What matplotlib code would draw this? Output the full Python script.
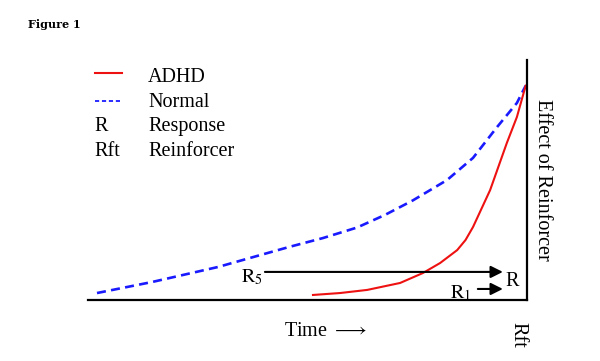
import matplotlib
matplotlib.use("Agg")
import matplotlib.pyplot as plt

plt.rcParams['font.family'] = ['Liberation Serif', 'DejaVu Serif']
plt.rcParams['mathtext.fontset'] = 'stix'
plt.rcParams['lines.scale_dashes'] = False

# Data (normalized time vs. effect of reinforcer)
normal_x = [0.0205, 0.146, 0.296, 0.460, 0.535, 0.613, 0.677, 0.740, 0.818, 0.877, 0.932, 0.977, 0.997]
normal_y = [0.029, 0.075, 0.1375, 0.222, 0.258, 0.302, 0.355, 0.415, 0.500, 0.592, 0.721, 0.821, 0.893]
adhd_x = [0.5125, 0.574, 0.636, 0.711, 0.763, 0.802, 0.841, 0.860, 0.877, 0.916, 0.954, 0.977, 0.997]
adhd_y = [0.021, 0.029, 0.042, 0.071, 0.1125, 0.154, 0.208, 0.250, 0.304, 0.458, 0.654, 0.7625, 0.893]

legend_keys = ['', '', 'R', 'Rft']
legend_labels = ['ADHD', 'Normal', 'Response', 'Reinforcer']

FS = 14.5

fig = plt.figure(figsize=(6.0, 3.61), dpi=100)
ax = fig.add_axes([88/600, 61/361, 439/600, 240/361])
ax.set_xlim(0, 1)
ax.set_ylim(0, 1)
ax.set_xticks([])
ax.set_yticks([])
for s in ['top', 'left']:
    ax.spines[s].set_visible(False)
for s in ['bottom', 'right']:
    ax.spines[s].set_linewidth(1.6)
    ax.spines[s].set_color('black')

ax.plot(normal_x, normal_y, color='#1a1aff', lw=1.9, dashes=(6.5, 3.8), clip_on=False)
ax.plot(adhd_x, adhd_y, color='#ee1111', lw=1.5, clip_on=False)

# Legend
ax.plot([0.016, 0.077], [0.946, 0.946], color='#ee1111', lw=1.5, clip_on=False)
ax.plot([0.016, 0.077], [0.829, 0.829], color='#1a1aff', lw=1.3, dashes=(3, 2), clip_on=False)
ys = [0.925, 0.822, 0.722, 0.618]
for key, lab, yy in zip(legend_keys, legend_labels, ys):
    if key:
        ax.text(0.014, yy, key, fontsize=FS, va='center', ha='left')
    ax.text(0.137, yy, lab, fontsize=FS, va='center', ha='left')

# Arrows
arrow = dict(arrowstyle='-|>', color='black', lw=1.5, mutation_scale=18, shrinkA=0, shrinkB=0)
ax.annotate('', xy=(0.945, 0.117), xytext=(0.403, 0.117), arrowprops=arrow)
ax.annotate('', xy=(0.945, 0.046), xytext=(0.888, 0.046), arrowprops=arrow)
ax.text(0.374, 0.095, r'$\mathrm{R}_5$', fontsize=FS, ha='center', va='center')
ax.text(0.85, 0.028, r'$\mathrm{R}_1$', fontsize=FS, ha='center', va='center')
ax.text(0.966, 0.075, 'R', fontsize=FS, ha='center', va='center')

ax.text(0.54, -0.13, r'Time $\longrightarrow$', fontsize=FS, ha='center', va='center')
ax.text(1.036, 0.5, 'Effect of Reinforcer', fontsize=FS, rotation=-90, ha='center', va='center')
ax.text(0.98, -0.146, 'Rft', fontsize=FS, rotation=-90, ha='center', va='center')

fig.text(28/600, 1 - 25/361, 'Figure 1', fontsize=8, fontweight='bold',
         family=['DejaVu Serif'], ha='left', va='center')

fig.savefig('out.png', dpi=100)
